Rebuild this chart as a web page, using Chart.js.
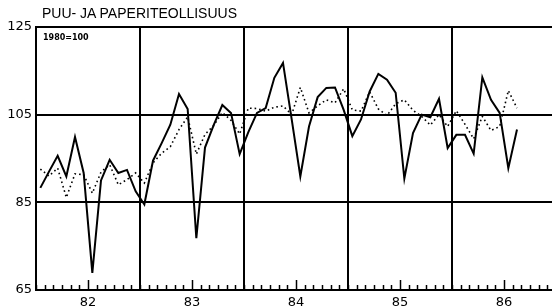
<!DOCTYPE html>
<html>
<head>
<meta charset="utf-8">
<script src="https://cdn.jsdelivr.net/npm/chart.js@4.4.1/dist/chart.umd.min.js"></script>
<style>
  html, body { margin: 0; padding: 0; background: #fff; overflow: hidden; }
  #wrap { position: relative; width: 561px; height: 307px; }
  #title { position: absolute; left: 42px; top: 5px; font: 14px "Liberation Sans", sans-serif; color: #000; white-space: nowrap; }
  #base { position: absolute; left: 43px; top: 33px; font: bold 8px "DejaVu Sans", sans-serif; color: #000; white-space: nowrap; }
</style>
</head>
<body>
<div id="wrap">
  <canvas id="chart"></canvas>
  <div id="title">PUU- JA PAPERITEOLLISUUS</div>
  <div id="base">1980=100</div>
</div>
<script>
// monthly index, Jan 1982 .. Aug 1986
const years = ["82", "83", "84", "85", "86"];
const actual = [
  88.3, 92, 95.6, 90.9, 99.9, 91.7, 68.9, 90, 94.7, 91.7, 92.4, 87.5,
  84.5, 94.5, 98.5, 102.7, 109.7, 106.3, 76.8, 97.5, 102.6, 107.2, 105.4, 96.0,
  101, 105.4, 106.5, 113.4, 116.8, 104, 90.9, 102.3, 109, 111.1, 111.2, 106.1,
  100.1, 103.9, 110.3, 114.3, 113, 110, 90.4, 100.8, 105, 104.4, 108.6, 97.4,
  100.4, 100.4, 96.1, 113.5, 108.4, 105.4, 92.8, 101.6
];
const trend = [
  92.6, 91, 92.8, 86.1, 91.5, 91.3, 87.1, 91.9, 93.6, 89, 90.2, 91.7,
  89.4, 94, 96.2, 97.7, 101.6, 104.5, 96, 100.5, 102.5, 105.5, 103.7, 100.6,
  106.5, 106.4, 105.8, 106.7, 107, 105, 111.2, 105.4, 107, 108.4, 107.7, 110.9,
  106.1, 105.8, 110.2, 106.3, 104.8, 107.5, 108.4, 106, 104.6, 102.6, 105, 102.3,
  105.9, 102.8, 99.5, 104.6, 101.4, 102.3, 110.5, 106.5
];
const yTicks = [65, 85, 105, 125];

const toPoints = (arr) => arr.map((v, i) => ({ x: i + 0.5, y: v }));

// month ticks drawn upward from the bottom axis
const monthTicks = {
  id: "monthTicks",
  afterDraw(chart) {
    const ctx = chart.ctx;
    const xs = chart.scales.x;
    const bottom = chart.chartArea.bottom;
    ctx.save();
    ctx.strokeStyle = "#000";
    ctx.lineWidth = 1.5;
    for (let m = 0; m <= years.length * 12; m++) {
      const x = Math.round(xs.getPixelForValue(m)) + 0.5;
      const len = m % 12 === 6 ? 10 : 5;
      ctx.beginPath();
      ctx.moveTo(x, bottom);
      ctx.lineTo(x, bottom - len);
      ctx.stroke();
    }
    ctx.restore();
  }
};

new Chart(document.getElementById("chart"), {
  type: "line",
  data: {
    datasets: [
      {
        data: toPoints(actual),
        borderColor: "#000",
        borderWidth: 2,
        pointRadius: 0,
        tension: 0
      },
      {
        data: toPoints(trend),
        borderColor: "#000",
        borderWidth: 1.6,
        borderDash: [1.6, 3],
        pointRadius: 0,
        tension: 0
      }
    ]
  },
  options: {
    responsive: true,
    maintainAspectRatio: false,
    animation: false,
    layout: { padding: { top: 27, left: 0, right: 0, bottom: 0 } },
    plugins: { legend: { display: false }, tooltip: { enabled: false } },
    scales: {
      x: {
        type: "linear",
        min: 0,
        max: years.length * 12,
        afterFit(scale) { scale.height = 17; },
        border: { display: true, color: "#000", width: 2 },
        grid: {
          drawTicks: false,
          color: (c) => (c.tick && c.tick.value % 12 === 0 ? "#000" : "transparent"),
          lineWidth: 2
        },
        ticks: {
          stepSize: 1,
          autoSkip: false,
          maxRotation: 0,
          padding: 5,
          color: "#000",
          font: { family: "DejaVu Sans", size: 13 },
          callback: (v) => (v % 12 === 6 ? years[Math.floor(v / 12)] : "")
        }
      },
      y: {
        min: 65,
        max: 125,
        afterFit(scale) { scale.width = 36; },
        afterBuildTicks(scale) { scale.ticks = yTicks.map((v) => ({ value: v })); },
        border: { display: true, color: "#000", width: 2 },
        grid: { drawTicks: false, color: "#000", lineWidth: 2 },
        ticks: {
          padding: 4,
          color: "#000",
          font: { family: "DejaVu Sans", size: 13 }
        }
      }
    }
  },
  plugins: [monthTicks]
});
</script>
</body>
</html>
